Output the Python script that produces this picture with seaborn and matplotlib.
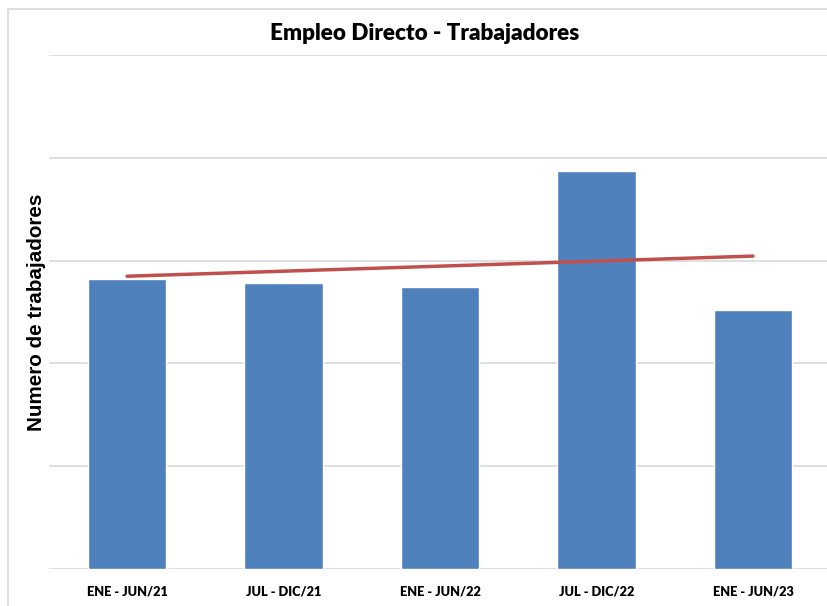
import numpy as np
import pandas as pd
import matplotlib
matplotlib.use('Agg')
import matplotlib.pyplot as plt
import seaborn as sns
from matplotlib.patches import Rectangle

# Periods and worker counts (axis units arbitrary)
periodos = ['ENE - JUN/21', 'JUL - DIC/21', 'ENE - JUN/22', 'JUL - DIC/22', 'ENE - JUN/23']
trabajadores = [282, 278, 274, 387, 252]

df = pd.DataFrame({'periodo': periodos, 'trabajadores': trabajadores})

sns.set_style('white')
plt.rcParams['font.family'] = ['Lato', 'DejaVu Sans']
plt.rcParams['text.color'] = 'black'
plt.rcParams['axes.labelcolor'] = 'black'
plt.rcParams['xtick.color'] = 'black'

fig = plt.figure(figsize=(8.27, 6.06), dpi=100)
ax = fig.add_axes([48.75 / 827, 37 / 606, 782.5 / 827, 514 / 606])

sns.barplot(data=df, x='periodo', y='trabajadores', color='#4F81BD',
            width=0.5, saturation=1, ax=ax, zorder=2)

# linear trend line over the bars
x = np.arange(len(trabajadores))
coef = np.polyfit(x, trabajadores, 1)
ax.plot(x, np.polyval(coef, x), color='#C0504D', linewidth=2.5, zorder=3)

ax.set_xlim(-0.5, len(periodos) - 0.5)
ax.set_ylim(0, 500)
ax.set_yticks(np.arange(0, 501, 100))
ax.set_yticklabels([])
ax.yaxis.grid(True, color='#D9D9D9', linewidth=1.2, zorder=0)
ax.set_axisbelow(True)
ax.tick_params(axis='both', length=0)
ax.tick_params(axis='x', pad=12)
for lbl in ax.get_xticklabels():
    lbl.set_fontweight('heavy')
    lbl.set_fontsize(9.2)
for s in ax.spines.values():
    s.set_visible(False)

ax.set_xlabel('')
ax.set_ylabel('Numero de trabajadores', fontsize=14.9, fontweight='bold',
              family=['Liberation Sans', 'DejaVu Sans'])
ax.yaxis.set_label_coords(-0.0035, 0.5)

fig.text(425 / 827, 1 - 33 / 606, 'Empleo Directo - Trabajadores',
         ha='center', va='center', fontsize=16.2, fontweight='heavy')

# chart frame
fig.patches.append(Rectangle((8 / 827, -0.01), 1.0, 1 - 9 / 606 + 0.01,
                             transform=fig.transFigure, fill=False,
                             edgecolor='#D9D9D9', linewidth=1.2))

fig.savefig('out.png', dpi=100)
